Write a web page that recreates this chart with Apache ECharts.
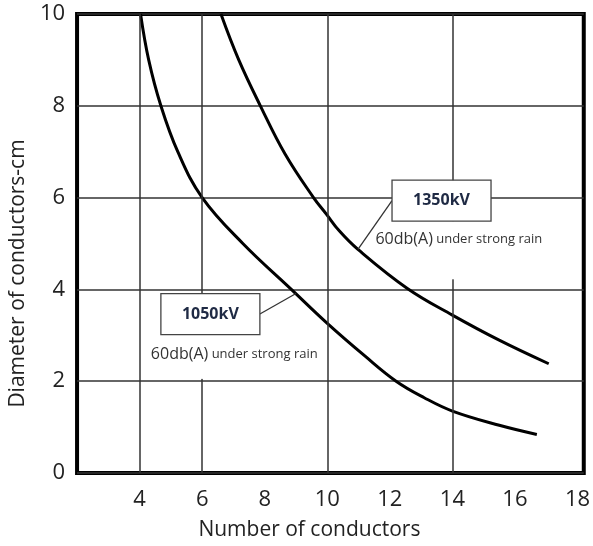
<!DOCTYPE html>
<html>
<head>
<meta charset="utf-8">
<script src="https://cdn.jsdelivr.net/npm/echarts@6/dist/echarts.min.js"></script>
<style>
  html, body { margin: 0; padding: 0; background: #fff; }
  #chart { width: 593px; height: 546px; }
</style>
</head>
<body>
<div id="chart"></div>
<script>
// [number of conductors, diameter in cm]
const curve1050 = [[4.03, 10], [4.29, 9], [4.68, 8], [5.22, 7], [6, 6], [7.3, 5], [8.85, 4], [10, 3.26], [11.2, 2.55], [12.2, 2], [13.1, 1.64], [14, 1.35], [15.5, 1.04], [16.7, 0.84]];
const curve1350 = [[6.6, 10], [7.17, 9], [7.86, 8], [8.65, 6.95], [9.56, 6], [9.97, 5.64], [10.39, 5.27], [10.98, 4.87], [12.56, 4.02], [14, 3.44], [15.48, 2.9], [17.08, 2.38]];
// vertical grid lines only exist at these x values
const gridX = [4, 6, 10, 14];
const xTicks = [4, 6, 8, 10, 12, 14, 16, 18];
const yTicks = [0, 2, 4, 6, 8, 10];
// where the leader lines touch the curves
const anchor1050 = [9.0, 3.91];
const anchor1350 = [10.98, 4.87];

const fontFamily = '"Open Sans", sans-serif';
const chart = echarts.init(document.getElementById('chart'));

const curveStyle = { color: '#000', width: 3 };

chart.setOption({
  animation: false,
  grid: {
    left: 70, right: 8, top: 14, bottom: 71,
    show: true, borderColor: '#000', borderWidth: 4, backgroundColor: 'transparent'
  },
  xAxis: {
    type: 'value', min: 2, max: 18.2, interval: 2,
    name: 'Number of conductors', nameLocation: 'middle', nameGap: 47,
    nameTextStyle: { fontFamily, fontSize: 21, color: '#222', padding: [0, 42, 0, 0] },
    axisLine: { show: false }, axisTick: { show: false },
    axisLabel: {
      fontFamily, fontSize: 22, color: '#222', margin: 16,
      formatter: v => xTicks.includes(v) ? String(v) : ''
    },
    splitLine: { show: false }
  },
  yAxis: {
    type: 'value', min: 0, max: 10, interval: 2,
    name: 'Diameter of conductors-cm', nameLocation: 'middle', nameGap: 32,
    nameTextStyle: { fontFamily, fontSize: 21, color: '#222', padding: [0, 60, 0, 0] },
    axisLine: { show: false }, axisTick: { show: false },
    axisLabel: {
      fontFamily, fontSize: 22, color: '#222', margin: 12,
      formatter: v => yTicks.includes(v) ? String(v) : ''
    },
    splitLine: { show: true, lineStyle: { color: '#333', width: 1.5 } }
  },
  series: [
    {
      type: 'line', data: [], silent: true, z: 1,
      markLine: {
        silent: true, symbol: ['none', 'none'], label: { show: false },
        lineStyle: { color: '#333', width: 1.5, type: 'solid' },
        emphasis: { disabled: true },
        data: gridX.map(v => ({ xAxis: v }))
      }
    },
    {
      name: '1050kV', type: 'line', data: curve1050, z: 3,
      smooth: 0.4, showSymbol: false, silent: true,
      lineStyle: curveStyle
    },
    {
      name: '1350kV', type: 'line', data: curve1350, z: 3,
      smooth: 0.4, showSymbol: false, silent: true,
      lineStyle: curveStyle
    }
  ]
});

// annotation boxes, placed in data space so they keep their place relative to the grid
const px = p => chart.convertToPixel({ gridIndex: 0 }, p);

function annotation(label, boxAt, textAt, anchor, leaderFromRight, gapX, gapToY) {
  const b = px(boxAt);
  const t = px(textAt);
  const a = px(anchor);
  const w = 99, h = 41;
  const from = leaderFromRight ? [b[0] + w, b[1] + h / 2] : [b[0], b[1] + h / 2];
  const gx = px([gapX, 0])[0];
  const gy = px([0, gapToY])[1];
  return [
    {
      type: 'rect', z: 10,
      shape: { x: gx - 4, y: b[1] + h, width: 8, height: gy - (b[1] + h) },
      style: { fill: '#fff' }
    },
    {
      type: 'line', z: 10,
      shape: { x1: from[0], y1: from[1], x2: a[0], y2: a[1] },
      style: { stroke: '#333', lineWidth: 1.3 }
    },
    {
      type: 'rect', z: 11,
      shape: { x: b[0], y: b[1], width: w, height: h },
      style: { fill: '#fff', stroke: '#444', lineWidth: 1.3 }
    },
    {
      type: 'text', z: 12,
      x: b[0] + w / 2, y: b[1] + h / 2,
      style: {
        text: label, align: 'center', verticalAlign: 'middle',
        fontFamily, fontSize: 16, fontWeight: 'bold', fill: '#1f2a44'
      }
    },
    {
      type: 'text', z: 12,
      x: t[0], y: t[1],
      style: {
        text: '{a|60db(A)} {b|under strong rain}',
        verticalAlign: 'middle', fill: '#333',
        rich: {
          a: { fontFamily, fontSize: 16, fill: '#333' },
          b: { fontFamily, fontSize: 13, fill: '#333' }
        }
      }
    }
  ];
}

chart.setOption({
  graphic: [
    ...annotation('1050kV', [4.68, 3.91], [4.36, 2.58], anchor1050, true, 6, 2.05),
    ...annotation('1350kV', [12.07, 6.38], [11.54, 5.09], anchor1350, false, 14, 4.22)
  ]
});
</script>
</body>
</html>
